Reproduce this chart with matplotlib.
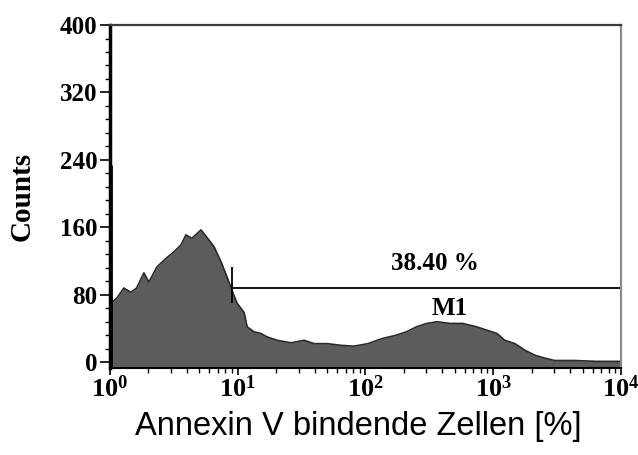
import numpy as np
import matplotlib.pyplot as plt

plt.rcParams['mathtext.fontset'] = 'custom'
plt.rcParams['mathtext.rm'] = 'Liberation Serif:bold'
plt.rcParams['mathtext.it'] = 'Liberation Serif:bold'
plt.rcParams['mathtext.bf'] = 'Liberation Serif:bold'

# histogram: channel position (decades) and counts
decade = [0.01, 0.055, 0.11, 0.165, 0.21, 0.267, 0.306, 0.369, 0.439, 0.502,
          0.557, 0.596, 0.643, 0.714, 0.761, 0.816, 0.871, 0.918, 0.957, 0.996,
          1.051, 1.075, 1.129, 1.184, 1.231, 1.31, 1.42, 1.52, 1.60, 1.70,
          1.81, 1.91, 2.02, 2.13, 2.24, 2.32, 2.40, 2.48, 2.56, 2.66,
          2.76, 2.87, 2.95, 3.03, 3.09, 3.17, 3.25, 3.33, 3.40, 3.48,
          3.64, 3.80, 3.99]
counts = [70, 76, 88, 83, 88, 106, 95, 113, 123, 131,
          139, 151, 147, 157, 148, 137, 119, 101, 85, 70,
          59, 42, 36, 34, 30, 26, 23, 26, 22, 22,
          20, 19, 22, 28, 32, 36, 42, 46, 48, 46,
          46, 42, 38, 34, 26, 22, 14, 8, 5, 2,
          2, 1, 1]
first_channel = 1.02
first_count = 234

# marker M1
gate_left = 9.0
gate_right = 1e4
gate_level = 88
gate_low, gate_high = 70, 113
gate_pct = "38.40 %"
gate_name = "M1"

x = 10 ** np.array(decade)
y = np.array(counts)

fig = plt.figure(figsize=(6.38, 4.55), dpi=100)
ax = fig.add_axes([0.172, 0.191, 0.8015, 0.754])

ymin = -7
ax.fill_between(x, ymin, y, color='#5c5c5c', lw=0)
ax.plot(x, y, color='#2a2a2a', lw=1.2)
ax.vlines(first_channel, ymin, first_count, color='black', lw=2)

ax.plot([gate_left, gate_right], [gate_level, gate_level], color='black', lw=1.3)
ax.vlines([gate_left, gate_right], gate_low, gate_high, color='black', lw=1.3)
serif = {'family': 'Liberation Serif', 'weight': 'bold'}
ax.text(347, 117, gate_pct, ha='center', va='center', fontsize=18, fontdict=serif)
ax.text(457, 64, gate_name, ha='center', va='center', fontsize=18, fontdict=serif)

ax.set_xscale('log')
ax.set_xlim(1, 1e4)
ax.set_ylim(ymin, 400)
ax.set_xticks([1, 10, 100, 1000, 10000])
ax.set_xticklabels([r'$10^{%d}$' % i for i in range(5)])
ax.set_yticks(np.arange(0, 401, 80))
ax.set_yticks(np.arange(0, 401, 16), minor=True)
for lab in ax.get_yticklabels():
    lab.set_fontfamily('Liberation Serif')
    lab.set_fontweight('bold')
ax.tick_params(axis='both', which='major', length=7, width=1.2)
ax.tick_params(axis='both', which='minor', length=3.5, width=1.0)
ax.tick_params(axis='y', which='major', labelsize=18, pad=2)
ax.tick_params(axis='x', which='major', labelsize=19, pad=1, length=5)

ax.spines['left'].set_linewidth(2.5)
ax.spines['bottom'].set_linewidth(1.5)
ax.spines['top'].set_color('#3a3a3a')
ax.spines['top'].set_linewidth(1.6)
ax.spines['right'].set_color('#8a8a8a')
ax.spines['right'].set_linewidth(1.6)

ax.set_ylabel('Counts', fontsize=21, fontdict=serif, labelpad=17)
ax.set_xlabel('Annexin V bindende Zellen [%]', fontsize=23.5,
              family='Liberation Sans', labelpad=6)
ax.xaxis.label.set_x(0.487)

fig.savefig('out.png', dpi=100)
